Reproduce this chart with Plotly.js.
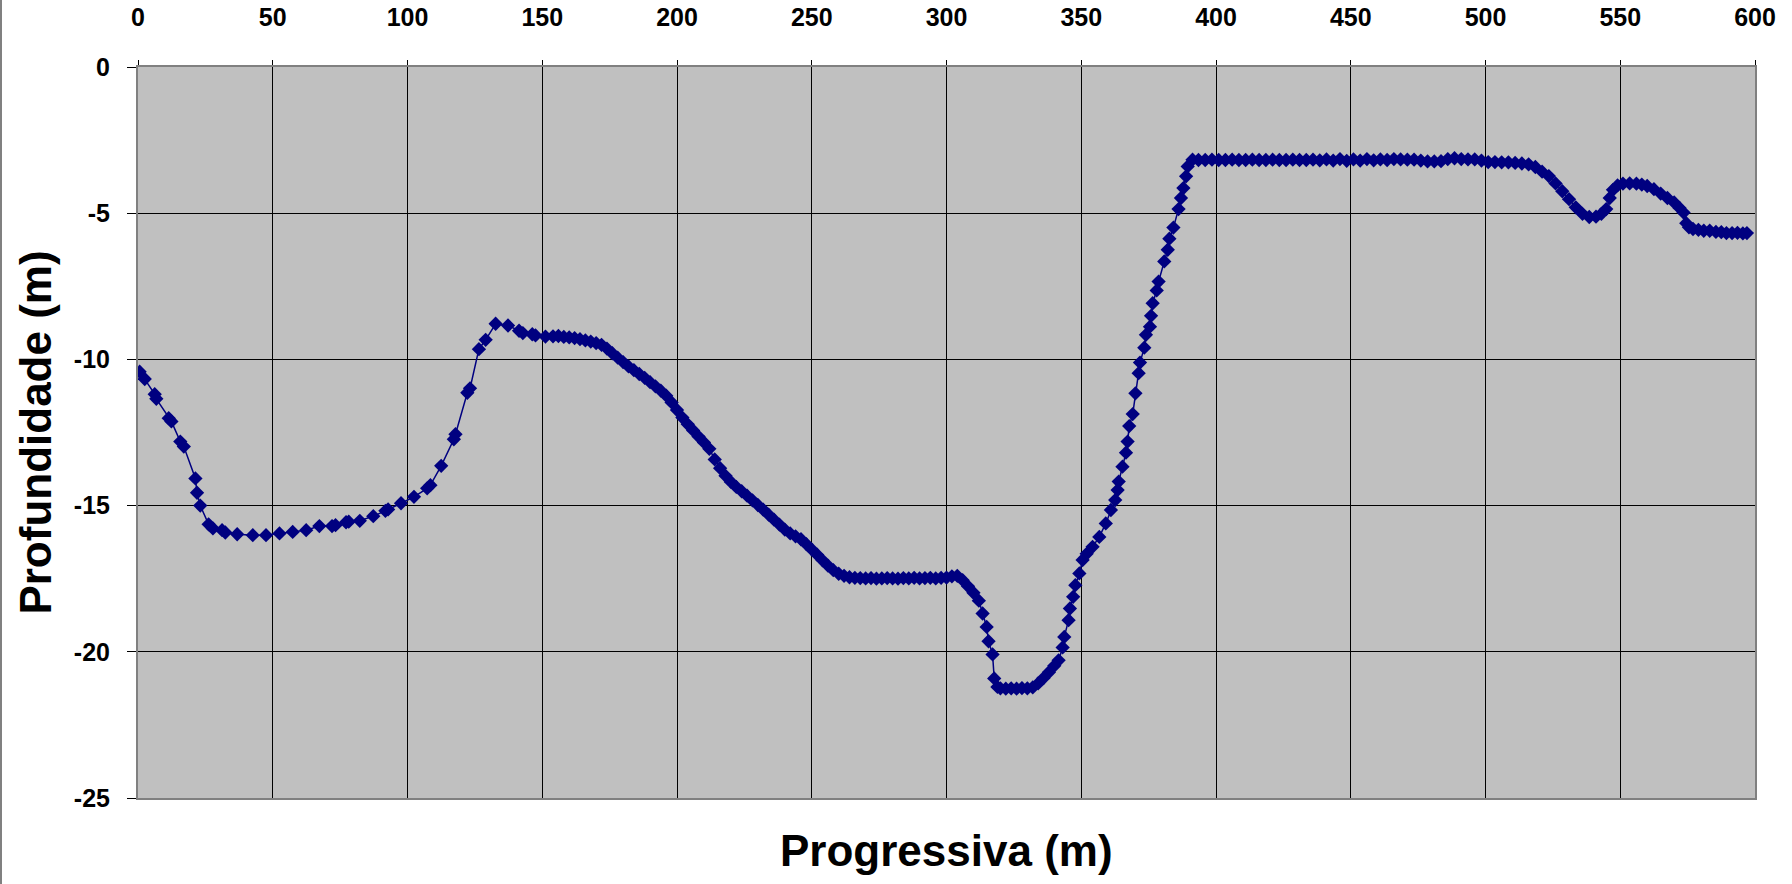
<!DOCTYPE html>
<html>
<head>
<meta charset="utf-8">
<script src="https://cdn.plot.ly/plotly-3.0.1.min.js"></script>
<style>
  html, body { margin: 0; padding: 0; background: #ffffff; }
  #chart { width: 1792px; height: 884px; box-sizing: border-box; border-left: 2px solid #808080; }
</style>
</head>
<body>
<div id="chart"></div>
<script>
// Progressiva (m) and Profundidade (m), segment by segment
const progressivaA = [0.6, 2.5, 6.2, 6.8, 11.4, 12.4, 15.7, 17.0, 21.3, 21.9,
  23.1, 26.2, 27.8, 31.2, 32.4, 36.8, 42.6, 47.5, 52.5, 57.4,
  62.4, 67.3, 72.0, 73.3, 77.2, 78.2, 82.3, 87.3, 91.8, 92.8,
  97.6, 102.4, 107.3, 108.5, 112.5, 117.2, 117.8, 122.2, 123.2, 126.5,
  129.0, 132.7, 137.3, 141.4, 142.8, 146.3, 147.5, 151.2];
const profundidadeA = [-10.42, -10.67, -11.19, -11.35, -12.01, -12.12, -12.81, -12.98, -14.07, -14.56,
  -15.00, -15.64, -15.78, -15.84, -15.92, -15.98, -16.01, -16.01, -15.95, -15.90,
  -15.84, -15.70, -15.70, -15.67, -15.57, -15.55, -15.52, -15.36, -15.18, -15.13,
  -14.92, -14.70, -14.41, -14.30, -13.64, -12.73, -12.56, -11.14, -10.99, -9.65,
  -9.33, -8.78, -8.84, -9.02, -9.10, -9.14, -9.18, -9.22];

const progressivaB = [154, 156, 158, 160, 162, 164, 166, 168, 170, 172,
  174, 176, 178, 180, 182, 184, 186, 188, 190, 192,
  194, 196, 198, 200, 202, 204, 206, 208, 210, 212,
  214, 216, 218, 220, 222, 224, 226, 228, 230, 232,
  234, 236, 238, 240, 242, 244, 246, 248, 250, 252,
  254, 256, 258, 260, 262, 264, 266];
const profundidadeB = [-9.21, -9.20, -9.23, -9.25, -9.27, -9.31, -9.35, -9.39, -9.44, -9.50,
  -9.63, -9.79, -9.94, -10.09, -10.24, -10.37, -10.50, -10.63, -10.78, -10.92,
  -11.07, -11.24, -11.47, -11.73, -11.99, -12.22, -12.43, -12.64, -12.84, -13.06,
  -13.42, -13.72, -13.98, -14.19, -14.36, -14.51, -14.66, -14.82, -14.98, -15.14,
  -15.31, -15.48, -15.65, -15.82, -15.95, -16.05, -16.15, -16.32, -16.50, -16.68,
  -16.87, -17.05, -17.21, -17.33, -17.40, -17.45, -17.47];

const progressivaC = [268, 270, 272, 274, 276, 278, 280, 282, 284, 286,
  288, 290, 292, 294, 296, 298, 300, 302, 304, 306,
  308, 310, 312, 313.4, 314.9, 315.6, 317.1, 317.7, 318.9, 320,
  322, 324, 326, 328, 330, 332, 334, 336, 338, 340,
  341.6, 343.1, 343.7, 345.3, 345.8, 347.0, 347.8, 349.3, 350.5, 352,
  354.2, 356.7, 359.1, 361.0, 362.6, 363.5, 363.9, 365.3, 366.6, 367.2,
  367.8, 369.1, 370.1, 371.3, 371.8, 373.4, 374.0, 375.5, 375.9, 376.5,
  378.0, 378.7, 380.8, 382.1, 382.7, 384.2, 386.1, 387.0, 387.9, 388.9,
  389.5, 391.3];
const profundidadeC = [-17.48, -17.49, -17.48, -17.50, -17.49, -17.48, -17.49, -17.50, -17.48, -17.49,
  -17.47, -17.49, -17.48, -17.47, -17.49, -17.47, -17.46, -17.42, -17.40, -17.55,
  -17.76, -17.98, -18.25, -18.69, -19.15, -19.64, -20.09, -20.91, -21.20, -21.25,
  -21.26, -21.25, -21.26, -21.24, -21.25, -21.22, -21.08, -20.90, -20.70, -20.48,
  -20.29, -19.85, -19.49, -18.92, -18.52, -18.12, -17.72, -17.32, -16.86, -16.65,
  -16.41, -16.07, -15.61, -15.15, -14.81, -14.47, -14.18, -13.67, -13.19, -12.81,
  -12.28, -11.87, -11.16, -10.47, -10.11, -9.60, -9.16, -8.88, -8.51, -8.08,
  -7.64, -7.34, -6.65, -6.25, -5.87, -5.49, -4.86, -4.48, -4.14, -3.74,
  -3.40, -3.17];

const progressivaD = [393.5, 396, 398.5, 401, 403.5, 406, 408.5, 411, 413.5, 416,
  418.5, 421, 423.5, 426, 428.5, 431, 433.5, 436, 438.5, 441,
  443.5, 446, 448.5, 451, 453.5, 456, 458.5, 461, 463.5, 466,
  468.5, 471, 473.5, 476, 478.5, 481, 483.5, 486, 488.5, 491,
  493.5, 496, 498.5, 501, 503.5, 506, 508.5, 511, 513.5, 516,
  518.5];
const profundidadeD = [-3.18, -3.18, -3.17, -3.18, -3.18, -3.17, -3.18, -3.18, -3.17, -3.18,
  -3.18, -3.17, -3.18, -3.18, -3.17, -3.18, -3.18, -3.17, -3.19, -3.16,
  -3.20, -3.15, -3.21, -3.16, -3.20, -3.15, -3.19, -3.16, -3.18, -3.15,
  -3.16, -3.17, -3.17, -3.20, -3.23, -3.23, -3.22, -3.15, -3.12, -3.15,
  -3.16, -3.16, -3.20, -3.25, -3.25, -3.26, -3.26, -3.28, -3.30, -3.33,
  -3.42];

const progressivaE = [521, 523.5, 526, 528.5, 531, 533.5, 536, 538.5, 541, 543,
  544.8, 546.1, 547.3, 549, 551, 553.5, 556, 558, 560, 562.5,
  565, 567.5, 570, 572, 573.5, 574.5, 575.5, 577, 579, 581,
  583.2, 585.5, 587.5, 589.4, 591.5, 593.5, 595.5, 597];
const profundidadeE = [-3.58, -3.73, -3.98, -4.25, -4.52, -4.80, -5.02, -5.13, -5.12, -5.02,
  -4.86, -4.48, -4.20, -4.05, -3.99, -3.98, -3.99, -4.02, -4.07, -4.18,
  -4.33, -4.48, -4.63, -4.82, -4.98, -5.34, -5.48, -5.54, -5.57, -5.60,
  -5.60, -5.64, -5.65, -5.68, -5.68, -5.67, -5.69, -5.68];

const xTickValues = [0, 50, 100, 150, 200, 250, 300, 350, 400, 450, 500, 550, 600];
const yTickValues = [0, -5, -10, -15, -20, -25];

const progressiva = [].concat(progressivaA, progressivaB, progressivaC, progressivaD, progressivaE);
const profundidade = [].concat(profundidadeA, profundidadeB, profundidadeC, profundidadeD, profundidadeE);

const trace = {
  x: progressiva,
  y: profundidade,
  type: 'scatter',
  mode: 'lines+markers',
  line: { color: '#000080', width: 1.5 },
  marker: { symbol: 'diamond', size: 11, color: '#000080' },
  hoverinfo: 'x+y',
  showlegend: false
};

const tickFont = { family: 'Liberation Sans, Arial, sans-serif', size: 25, color: '#000000', weight: 'bold' };
const titleFont = { family: 'Liberation Sans, Arial, sans-serif', size: 44, color: '#000000', weight: 'bold' };

const layout = {
  width: 1792,
  height: 884,
  margin: { l: 136, r: 39, t: 67, b: 86, pad: 0 },
  paper_bgcolor: '#ffffff',
  plot_bgcolor: '#c0c0c0',
  showlegend: false,
  xaxis: {
    side: 'top',
    range: [0, 600],
    tickmode: 'array',
    tickvals: xTickValues,
    ticktext: xTickValues.map(String),
    ticks: 'outside',
    ticklen: 5,
    tickcolor: '#000000',
    ticklabelstandoff: 24,
    tickfont: tickFont,
    showgrid: true,
    gridcolor: '#000000',
    gridwidth: 1,
    zeroline: false,
    showline: true,
    linecolor: '#808080',
    linewidth: 2,
    mirror: true,
    title: { text: '' }
  },
  yaxis: {
    range: [-25, 0],
    tickmode: 'array',
    tickvals: yTickValues,
    ticktext: yTickValues.map(String),
    ticks: 'outside',
    ticklen: 9,
    tickcolor: '#000000',
    ticklabelstandoff: 12,
    tickfont: tickFont,
    showgrid: true,
    gridcolor: '#000000',
    gridwidth: 1,
    zeroline: false,
    showline: true,
    linecolor: '#808080',
    linewidth: 2,
    mirror: true,
    title: { text: 'Profundidade (m)', font: titleFont, standoff: 8 }
  },
  annotations: [{
    text: 'Progressiva (m)',
    xref: 'paper', yref: 'paper',
    x: 0.5, y: 0,
    yshift: -52,
    xanchor: 'center', yanchor: 'middle',
    showarrow: false,
    font: titleFont
  }]
};

Plotly.newPlot('chart', [trace], layout, { displayModeBar: false, staticPlot: true });
</script>
</body>
</html>
